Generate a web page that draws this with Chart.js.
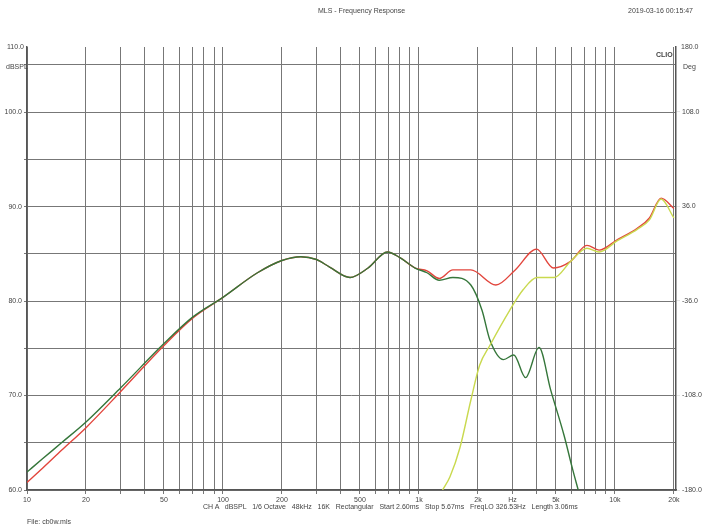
<!DOCTYPE html>
<html><head><meta charset="utf-8">
<script src="https://cdn.jsdelivr.net/npm/chart.js@4/dist/chart.umd.min.js"></script>
<style>
body{margin:0;background:#fff;font-family:"Liberation Sans",Arial,sans-serif}
#wrap{position:relative;width:705px;height:528px}
.t{position:absolute;font-size:7px;color:#444;white-space:nowrap}
</style></head><body>
<div id="wrap">
<canvas id="chart" width="705" height="528"></canvas>
<div class="t" style="left:318px;top:7px">MLS - Frequency Response</div>
<div class="t" style="left:628px;top:7px">2019-03-16 00:15:47</div>
<div class="t" style="left:7px;top:43px">110.0</div>
<div class="t" style="left:681px;top:43px">180.0</div>
<div class="t" style="left:656px;top:51px;font-weight:bold">CLIO</div>
<div class="t" style="left:6px;top:63px">dBSPL</div>
<div class="t" style="left:683px;top:63px">Deg</div>
<div class="t" style="left:203px;top:503px">CH A &nbsp; dBSPL &nbsp; 1/6 Octave &nbsp; 48kHz &nbsp; 16K &nbsp; Rectangular &nbsp; Start 2.60ms &nbsp; Stop 5.67ms &nbsp; FreqLO 326.53Hz &nbsp; Length 3.06ms</div>
<div class="t" style="left:27px;top:518px">File: cb0w.mls</div>
</div>
<script>
// total response (red)
var redFreq = [10,12,15,20,30,50,70,100,150,200,250,300,350,445,550,690,800,957,1100,1270,1490,1840,2470,3100,3980,4860,5940,7200,8300,10300,13000,15000,17200,20000];
var redDb = [60.8,62.3,64.2,66.6,70.4,75.3,78.2,80.4,83.0,84.3,84.7,84.4,83.6,82.5,83.5,85.2,84.6,83.5,83.2,82.4,83.3,83.3,81.7,83.3,85.5,83.5,84.2,85.9,85.4,86.5,87.7,88.8,90.9,89.8];
// woofer (green)
var greenFreq = [10,12,15,20,30,50,70,100,150,200,250,300,350,445,550,690,800,957,1100,1270,1490,1840,2100,2300,2700,3050,3500,4100,4700,5500,6100,6500];
var greenDb = [61.9,63.3,65.0,67.2,70.8,75.5,78.3,80.4,83.0,84.3,84.7,84.4,83.6,82.5,83.5,85.2,84.6,83.5,83.0,82.2,82.5,81.7,79.0,75.9,73.8,74.3,71.9,75.1,70.6,65.8,62.1,60.0];
// tweeter (yellow)
var yellowFreq = [1320,1440,1620,1840,2040,2300,2900,3400,4000,4900,5940,7200,8300,10300,13000,15000,17200,20000];
var yellowDb = [60.0,61.4,64.5,69.5,73.2,75.3,79.0,81.2,82.5,82.5,84.2,85.6,85.2,86.4,87.6,88.6,90.8,88.8];

var xLabels = {10:"10",20:"20",50:"50",100:"100",200:"200",500:"500",1000:"1k",2000:"2k",3000:"Hz",5000:"5k",10000:"10k",20000:"20k"};
var leftTicks = [60,70,80,90,100];
var rightTicks = [-180,-108,-36,36,108];

function pts(f, v) { return f.map(function (x, i) { return {x: x, y: v[i]}; }); }
function line(label, f, v, color) {
    return {label: label, data: pts(f, v), borderColor: color, borderWidth: 1.4,
        pointRadius: 0, cubicInterpolationMode: "monotone", yAxisID: "y"};
}

var gridTicks = [];
[10, 100, 1000, 10000].forEach(function (d) {
    for (var k = 1; k < 10; k++) if (d * k <= 20000) gridTicks.push(d * k);
});

new Chart(document.getElementById("chart"), {
    type: "line",
    data: {datasets: [
        line("tweeter", yellowFreq, yellowDb, "#c9d94e"),
        line("woofer", greenFreq, greenDb, "#35763a"),
        line("total", redFreq, redDb, "#e2453c")
    ]},
    options: {
        responsive: false, animation: false,
        layout: {padding: {top: 47, left: 0, right: 0, bottom: 0}},
        plugins: {legend: {display: false}, tooltip: {enabled: false}},
        scales: {
            x: {
                type: "logarithmic", min: 10, max: 20500,
                afterBuildTicks: function (ax) { ax.ticks = gridTicks.map(function (v) { return {value: v}; }); },
                afterFit: function (ax) { ax.height = 38; },
                ticks: {autoSkip: false, maxRotation: 0, font: {size: 7}, color: "#444", padding: 2,
                    callback: function (v) { return xLabels[v] || ""; }},
                grid: {color: "#777", lineWidth: 1, tickLength: 4},
                border: {color: "#555", width: 1.5}
            },
            y: {
                position: "left", min: 60, max: 106.9,
                afterBuildTicks: function (ax) {
                    var t = [];
                    for (var v = 60; v <= 105; v += 5) t.push({value: v});
                    ax.ticks = t;
                },
                afterFit: function (ax) { ax.width = 27; },
                ticks: {font: {size: 7}, color: "#444", padding: 2,
                    callback: function (v) { return leftTicks.indexOf(v) >= 0 ? v.toFixed(1) : ""; }},
                grid: {color: "#777", lineWidth: 1, tickLength: 3},
                border: {color: "#555", width: 1.5}
            },
            y2: {
                position: "right", min: -180, max: 157.5,
                afterBuildTicks: function (ax) { ax.ticks = rightTicks.map(function (v) { return {value: v}; }); },
                afterFit: function (ax) { ax.width = 29; },
                ticks: {font: {size: 7}, color: "#444", padding: 2,
                    callback: function (v) { return v.toFixed(1); }},
                grid: {drawOnChartArea: false, tickLength: 4},
                border: {color: "#555", width: 1.5}
            }
        }
    }
});
</script>
</body></html>
